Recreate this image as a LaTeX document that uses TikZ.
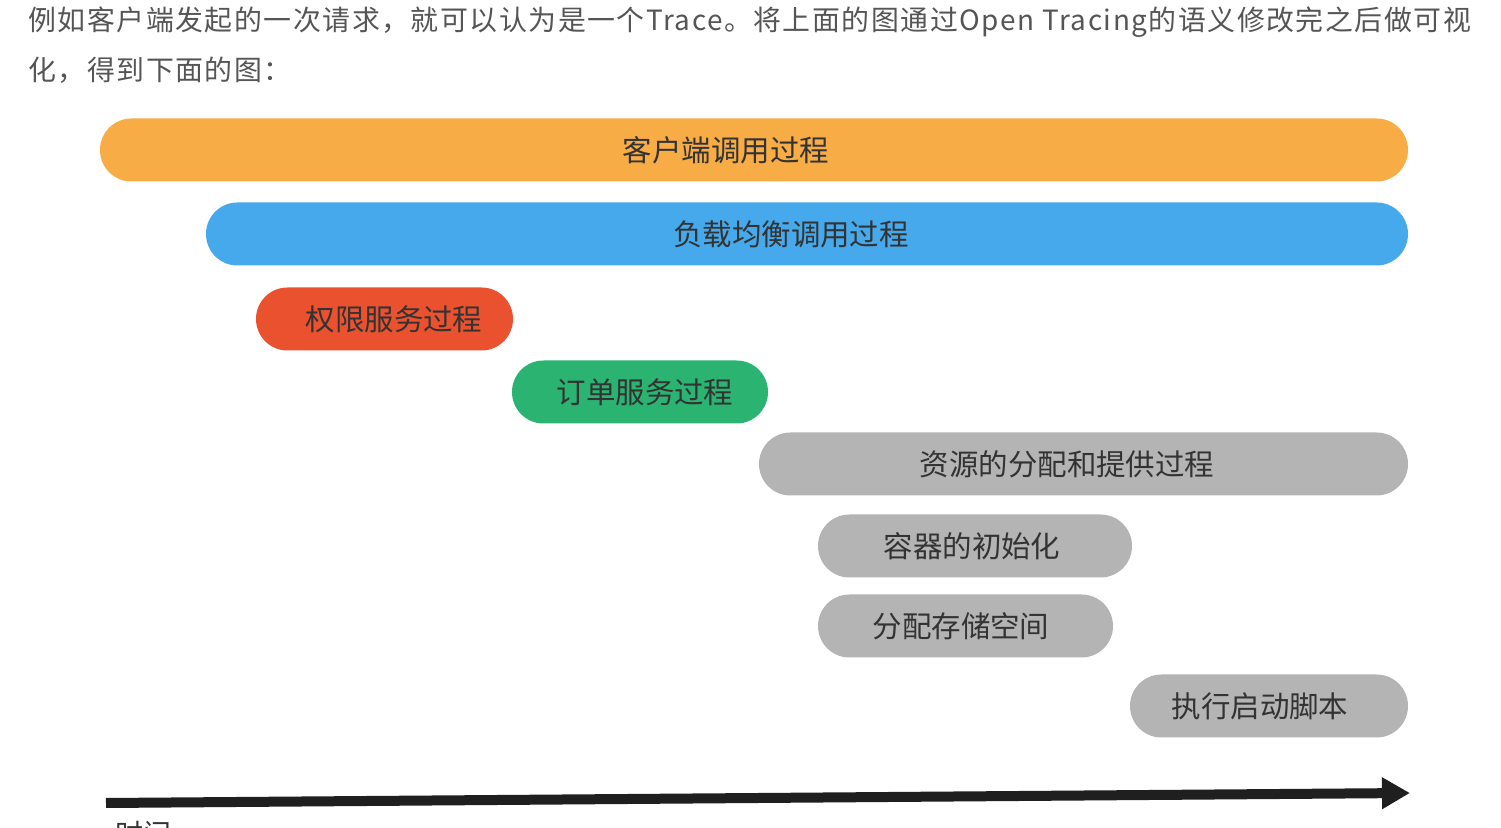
\documentclass[tikz,border=0pt]{standalone}
\usepackage{fontspec}
\setmainfont{Noto Sans CJK SC}
\usetikzlibrary{arrows.meta}
\definecolor{introgray}{HTML}{555555}
\definecolor{labelgray}{HTML}{333333}
\definecolor{clientorange}{HTML}{F8AC46}
\definecolor{lbblue}{HTML}{46A9EC}
\definecolor{authred}{HTML}{EA522F}
\definecolor{ordergreen}{HTML}{2AB371}
\definecolor{resgray}{HTML}{B4B4B4}
\tikzset{
  span/.style={rectangle,rounded corners=15.7bp,minimum height=31.5bp,inner sep=0pt,draw=none},
  spanlabel/.style={text=labelgray,font=\fontsize{14.8}{16}\selectfont,inner sep=0pt},
  intro/.style={anchor=west,text=introgray,inner sep=0pt,font=\fontsize{14}{16}\selectfont\addfontfeature{LetterSpace=5.5}},
}
\begin{document}
\begin{tikzpicture}[>=latex,line join=bevel,]
\useasboundingbox (0bp,0bp) rectangle (750.5bp,414bp);
%%
\node (intro1) at (14bp,403bp) [intro] {例如客户端发起的一次请求，就可以认为是一个Trace。将上面的图通过Open Tracing的语义修改完之后做可视};
\node (intro2) at (14bp,379bp) [intro] {化，得到下面的图：};
%%
  \node (client) at (377bp,339bp) [span,fill=clientorange,minimum width=654bp] {};
  \node (lb) at (403.5bp,297bp) [span,fill=lbblue,minimum width=601bp] {};
  \node (auth) at (192.25bp,254.5bp) [span,fill=authred,minimum width=128.5bp] {};
  \node (order) at (320bp,218bp) [span,fill=ordergreen,minimum width=128bp] {};
  \node (res) at (541.75bp,182bp) [span,fill=resgray,minimum width=324.5bp] {};
  \node (container) at (487.5bp,141bp) [span,fill=resgray,minimum width=157bp] {};
  \node (storage) at (482.75bp,101bp) [span,fill=resgray,minimum width=147.5bp] {};
  \node (script) at (634.5bp,61bp) [span,fill=resgray,minimum width=139bp] {};
  \node (client_l) at (363bp,339bp) [spanlabel] {客户端调用过程};
  \node (lb_l) at (395.5bp,297bp) [spanlabel] {负载均衡调用过程};
  \node (auth_l) at (197bp,254.5bp) [spanlabel] {权限服务过程};
  \node (order_l) at (322.5bp,218bp) [spanlabel] {订单服务过程};
  \node (res_l) at (533.5bp,182bp) [spanlabel] {资源的分配和提供过程};
  \node (container_l) at (486bp,141bp) [spanlabel] {容器的初始化};
  \node (storage_l) at (480.5bp,101bp) [spanlabel] {分配存储空间};
  \node (script_l) at (630bp,61bp) [spanlabel] {执行启动脚本};
%%
  \coordinate (t_start) at (53bp,12.5bp);
  \coordinate (t_end) at (705bp,17.5bp);
  \draw [-{Triangle[length=14bp,width=15bp]},line width=5bp,color=black!88] (t_start) -- (t_end);
  \node (time) at (57.5bp,-3bp) [anchor=west,spanlabel,font=\fontsize{14}{16}\selectfont] {时间};
%
\end{tikzpicture}
\end{document}
